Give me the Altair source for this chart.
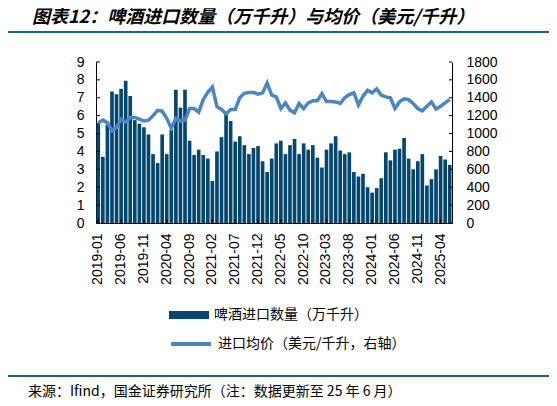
import pandas as pd
import altair as alt

# monthly categories 2019-01 .. 2025-06
months = [d.strftime('%Y-%m') for d in pd.date_range('2019-01-01', '2025-06-01', freq='MS')]

# 啤酒进口数量（万千升）
qty = [5.6, 3.7, 5.5, 7.35, 7.2, 7.5, 7.95, 7.1, 5.75, 5.55, 5.35, 4.95,
       3.85, 3.35, 4.95, 3.85, 5.2, 7.45, 6.45, 7.45, 4.6, 3.8, 4.1, 3.8,
       3.6, 2.35, 4.0, 4.8, 6.1, 5.7, 4.55, 4.85, 4.35, 3.85, 4.2, 4.3,
       3.45, 2.85, 3.6, 4.45, 4.6, 3.85, 4.35, 4.7, 3.85, 4.45, 4.1, 4.35,
       3.65, 3.1, 4.1, 4.45, 4.85, 4.05, 3.85, 3.95, 2.85, 2.6, 2.75, 2.0,
       1.7, 1.95, 2.5, 3.95, 3.5, 4.1, 4.15, 4.75, 3.6, 3.0, 3.45, 3.85,
       2.1, 2.45, 3.0, 3.75, 3.55, 3.25]

# 进口均价（美元/千升）
price = [1120, 1150, 1120, 1030, 1070, 1160, 1130, 1180, 1180, 1160, 1140, 1150,
         1200, 1260, 1250, 1170, 1060, 1170, 1140, 1150, 1280, 1280, 1240, 1380,
         1460, 1520, 1300, 1270, 1220, 1270, 1270, 1400, 1450, 1460, 1460, 1440,
         1455, 1566, 1430, 1410, 1280, 1343, 1262, 1232, 1336, 1280, 1343, 1366,
         1366, 1447, 1358, 1358, 1354, 1336, 1400, 1436, 1455, 1320, 1417, 1484,
         1455, 1499, 1428, 1410, 1400, 1280, 1354, 1388, 1380, 1336, 1280, 1254,
         1306, 1354, 1273, 1306, 1343, 1380]

x_ticks = ['2019-01', '2019-06', '2019-11', '2020-04', '2020-09', '2021-02',
           '2021-07', '2021-12', '2022-05', '2022-10', '2023-03', '2023-08',
           '2024-01', '2024-06', '2024-11', '2025-04']
left_ticks = [0, 1, 2, 3, 4, 5, 6, 7, 8, 9]
right_ticks = [0, 200, 400, 600, 800, 1000, 1200, 1400, 1600, 1800]

bar_name = '啤酒进口数量（万千升）'
line_name = '进口均价（美元/千升，右轴）'
title_text = '图表12：啤酒进口数量（万千升）与均价（美元/千升）'
source_text = '来源：Ifind，国金证券研究所（注：数据更新至 25 年 6 月）'

NAVY = '#03466e'
BLUE = '#4a86c6'
RULE = '#20608c'
W, H = 356, 161
NUM_FONT = 'Liberation Sans'
CJK_FONT = 'Noto Sans CJK SC'

df = pd.DataFrame({'month': months, 'qty': qty, 'price': price,
                   'b': bar_name, 'l': line_name})

xscale = alt.Scale(domain=months, paddingInner=0.2, paddingOuter=0.1)
lscale = alt.Scale(domain=[0, 9])
rscale = alt.Scale(domain=[0, 1800])

x_axis = alt.Axis(values=x_ticks, labelAngle=270, labelAlign='right',
                  labelBaseline='middle', labelPadding=10, tickSize=0,
                  labelFont=NUM_FONT, labelFontSize=14, labelColor='black',
                  domainColor='black')
left_axis = alt.Axis(orient='left', values=left_ticks, grid=False, tickSize=0,
                     labelPadding=12, labelFont=NUM_FONT, labelFontSize=14,
                     labelColor='black', domainColor='black')
right_axis = alt.Axis(orient='right', values=right_ticks, format='d', grid=False,
                      tickSize=0, labelPadding=14, labelFont=NUM_FONT, labelFontSize=14,
                      labelColor='black', domainColor='black')

bars = alt.Chart(df).mark_bar(color=NAVY).encode(
    x=alt.X('month:O', scale=xscale, title=None, axis=x_axis),
    y=alt.Y('qty:Q', scale=lscale, title=None, axis=left_axis),
    fill=alt.Fill('b:N', scale=alt.Scale(domain=[bar_name], range=[NAVY]),
                  legend=alt.Legend(title=None, orient='none', legendX=73, legendY=233,
                                    padding=0, symbolType='M-1,-0.2H1V0.2H-1Z',
                                    symbolSize=1600, symbolStrokeWidth=0, labelOffset=5,
                                    labelLimit=400, labelFont=CJK_FONT, labelFontSize=14,
                                    labelColor='black'))
)

# inward tick marks
lticks = alt.Chart(pd.DataFrame({'v': left_ticks})).mark_rule(color='black').encode(
    y=alt.Y('v:Q', scale=lscale, title=None, axis=left_axis),
    x=alt.value(0), x2=alt.value(4)
)

xticks = alt.Chart(pd.DataFrame({'month': x_ticks})).mark_rule(color='black').encode(
    x=alt.X('month:O', scale=xscale, title=None, axis=x_axis),
    y=alt.value(H), y2=alt.value(H - 4)
)

line = alt.Chart(df).mark_line(strokeWidth=3.5).encode(
    x=alt.X('month:O', scale=xscale, title=None, axis=x_axis),
    y=alt.Y('price:Q', scale=rscale, title=None, axis=right_axis),
    stroke=alt.Stroke('l:N', scale=alt.Scale(domain=[line_name], range=[BLUE]),
                      legend=alt.Legend(title=None, orient='none', legendX=73, legendY=260,
                                        padding=0, symbolType='stroke', symbolSize=1600,
                                        symbolStrokeWidth=4, labelOffset=5, labelLimit=400,
                                        labelFont=CJK_FONT, labelFontSize=14,
                                        labelColor='black'))
)

rticks = alt.Chart(pd.DataFrame({'v': right_ticks})).mark_rule(color='black').encode(
    y=alt.Y('v:Q', scale=rscale, title=None, axis=right_axis),
    x=alt.value(W), x2=alt.value(W - 3)
)

one = alt.Data(values=[{}])
top_rule = alt.Chart(one).mark_rule(color=RULE, strokeWidth=2).encode(
    x=alt.value(-91), x2=alt.value(456), y=alt.value(-30))
bottom_rule = alt.Chart(one).mark_rule(color=RULE, strokeWidth=2).encode(
    x=alt.value(-91), x2=alt.value(456), y=alt.value(314))
title = alt.Chart(one).mark_text(
    text=title_text, align='left', baseline='middle', font=CJK_FONT,
    fontSize=18, fontStyle='italic', fontWeight='bold', color='black'
).encode(x=alt.value(-64), y=alt.value(-44))
source = alt.Chart(one).mark_text(
    text=source_text, align='left', baseline='middle', font=CJK_FONT,
    fontSize=14, color='black'
).encode(x=alt.value(-68), y=alt.value(330))

chart = alt.layer(
    alt.layer(bars, lticks, xticks),
    alt.layer(line, rticks),
    top_rule, bottom_rule, title, source
).resolve_scale(
    y='independent'
).properties(
    width=W, height=H,
    autosize=alt.AutoSizeParams(type='none'),
    padding={'left': 88, 'top': 54, 'right': 97, 'bottom': 183}
).configure_view(
    stroke=None
)

chart.save('out.html', embed_options={'renderer': 'svg', 'actions': False})
